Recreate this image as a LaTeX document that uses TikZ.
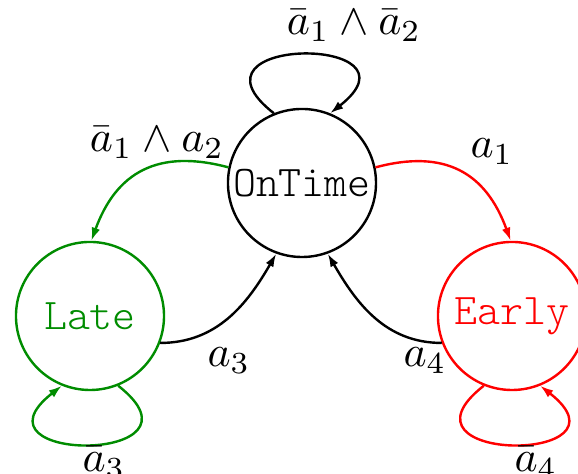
\documentclass[tikz,border=0pt]{standalone}
\usepackage{amsmath}
\usepackage{amssymb}
\usetikzlibrary{arrows.meta}
\definecolor{lategreen}{RGB}{0,140,0}

\begin{document}
\begin{tikzpicture}[x=0.2283pt, y=0.2283pt, line width=0.55pt,
    state/.style={circle, draw, minimum size=33.8pt, inner sep=0pt, font=\ttfamily\fontseries{l}\selectfont},
    trans/.style={-{Latex[length=3pt,width=2pt]}},
    lbl/.style={anchor=base, inner sep=0pt}]
        \useasboundingbox (0,0) rectangle (578,474);
        \node[state] (ontime) at (302,291) {OnTime};
        \node[state, lategreen] (late) at (90,158) {Late};
        \node[state, red] (early) at (512,158) {Early};
        \draw[trans] (ontime.112) to[out=142,in=38,looseness=5.8] (ontime.68);
        \draw[trans, lategreen] (ontime.168) to[out=165,in=70,looseness=1.2] (late.89);
        \draw[trans, red] (ontime.12) to[out=15,in=110,looseness=1.2] (early.91);
        \draw[trans] (late.-21) to[out=0,in=-120] (ontime.-110);
        \draw[trans] (early.201) to[out=180,in=-60] (ontime.-70);
        \draw[trans, lategreen] (late.-68) to[out=-38,in=-142,looseness=5.8] (late.-112);
        \draw[trans, red] (early.-112) to[out=-142,in=-38,looseness=5.8] (early.-68);
        \node[lbl] (stay) at (354,439) {$\bar{a}_1 \wedge \bar{a}_2$};
        \node[lbl] (tolate) at (157,322) {$\bar{a}_1 \wedge a_2$};
        \node[lbl] (toearly) at (492,316) {$a_1$};
        \node[lbl] (fromlate) at (229,107) {$a_3$};
        \node[lbl] (fromearly) at (425,107) {$a_4$};
        \node[lbl] (staylate) at (104,2) {$\bar{a}_3$};
        \node[lbl] (stayearly) at (536,2) {$\bar{a}_4$};
    \end{tikzpicture}
\end{document}
